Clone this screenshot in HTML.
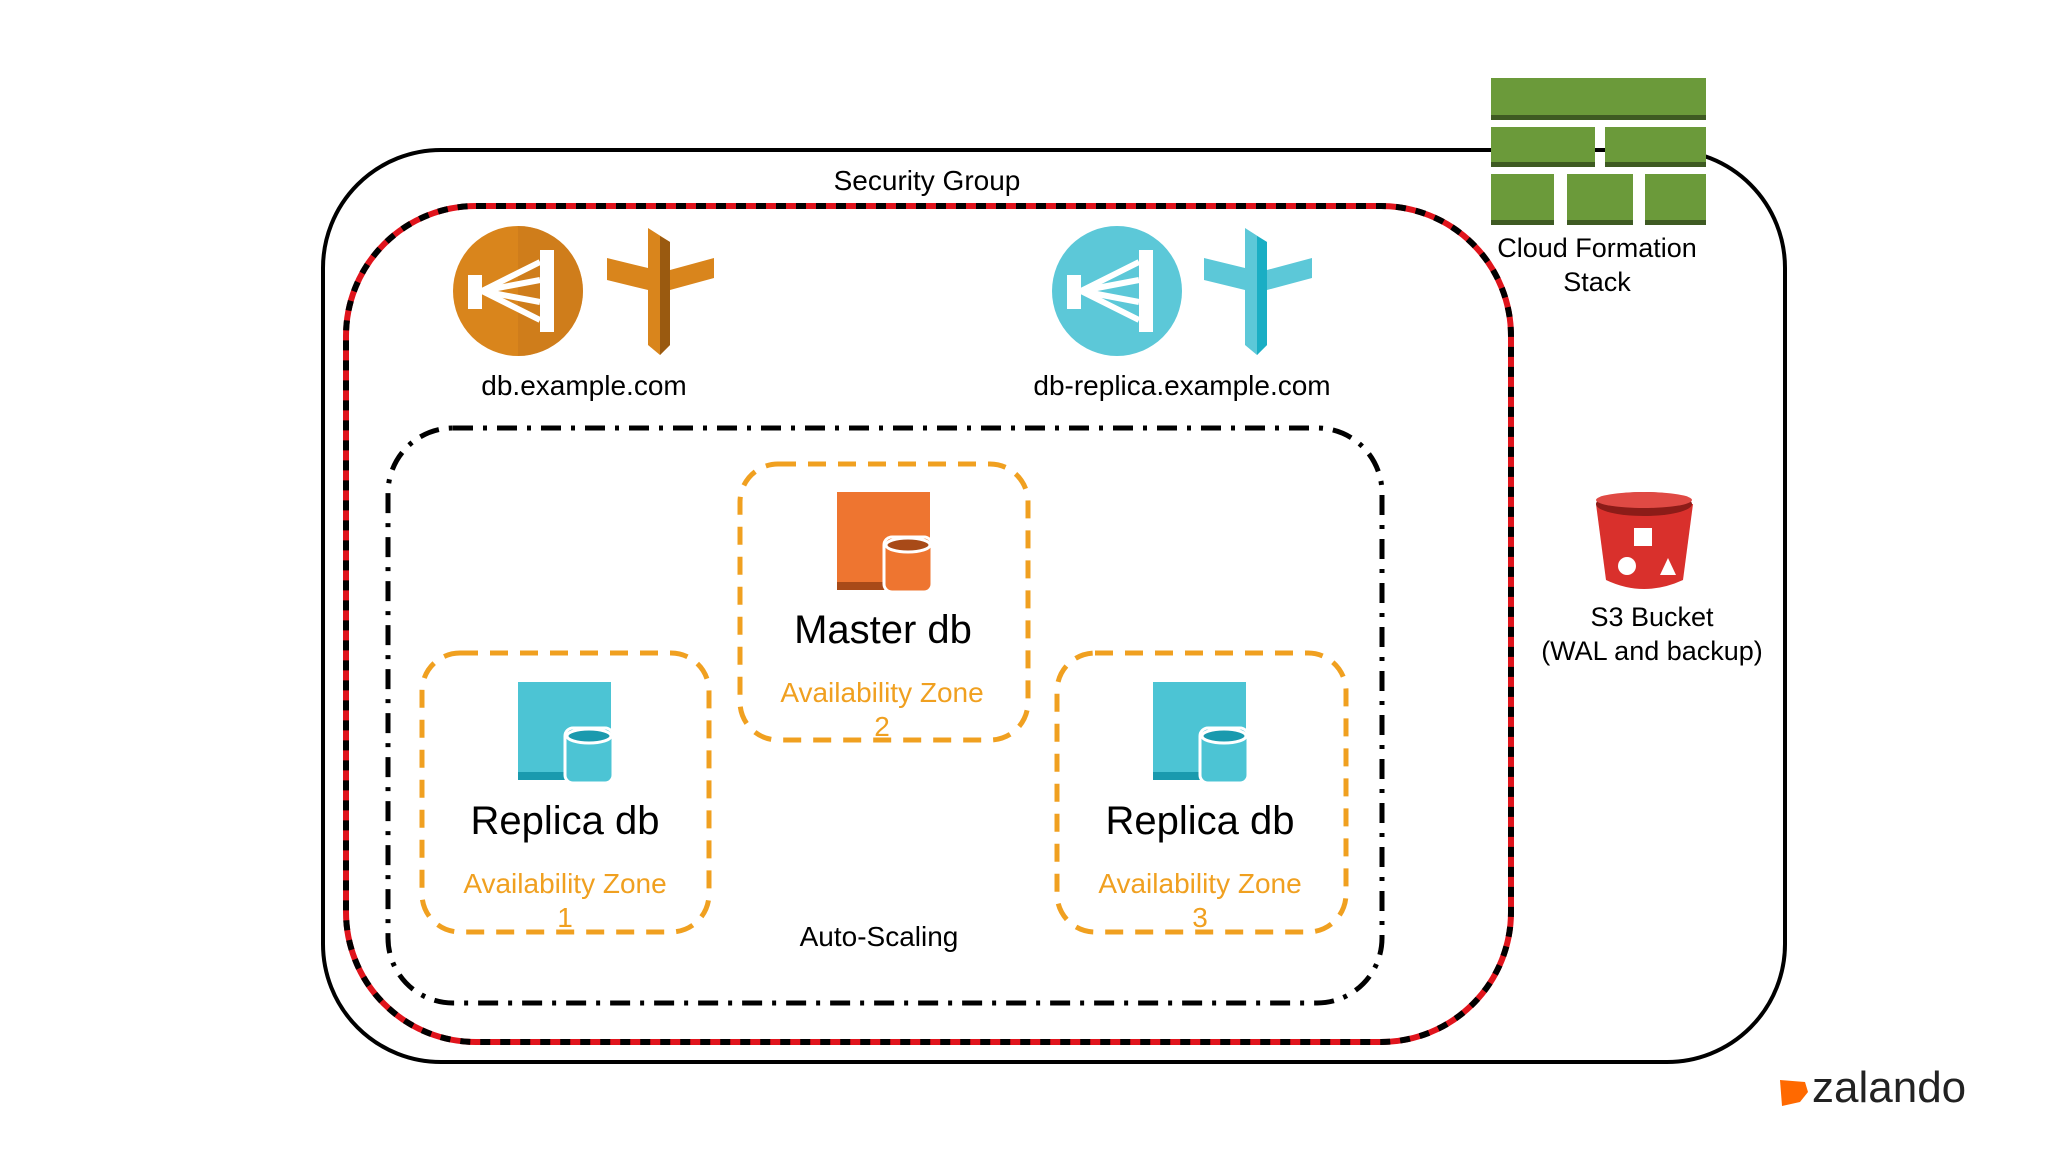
<!DOCTYPE html>
<html><head><meta charset="utf-8"><style>
html,body{margin:0;padding:0;background:#fff}
svg{display:block}
text{font-family:"Liberation Sans",Arial,sans-serif}
</style></head><body>
<svg width="2048" height="1152" viewBox="0 0 2048 1152" xmlns="http://www.w3.org/2000/svg">
<rect width="2048" height="1152" fill="#fff"/>
<rect x="323" y="150" width="1462" height="912" rx="118" fill="none" stroke="#000" stroke-width="4"/>
<rect x="346" y="206" width="1165" height="836" rx="130" fill="none" stroke="#e0141c" stroke-width="6"/>
<rect x="346" y="206" width="1165" height="836" rx="130" fill="none" stroke="#000" stroke-width="6" stroke-dasharray="10 10"/>
<rect x="388" y="428" width="994" height="575" rx="65" fill="none" stroke="#000" stroke-width="5" stroke-dasharray="20 10 4 10"/>
<g fill="none" stroke="#f0a020" stroke-width="5" stroke-dasharray="18 12">
<rect x="740" y="464" width="288" height="276" rx="38"/>
<rect x="422" y="653" width="287" height="279" rx="38"/>
<rect x="1057" y="653" width="289" height="279" rx="38"/>
</g>
<text x="927" y="190" font-size="28" text-anchor="middle">Security Group</text>
<circle cx="518" cy="291" r="65" fill="#d9851c"/>
<path d="M518 226 a65 65 0 0 1 0 130 z" fill="#c5761a" opacity="0.5"/>
<g stroke="#fff" stroke-width="6" fill="#fff">
<rect x="468" y="275" width="14" height="34" stroke="none"/>
<line x1="482" y1="291" x2="540" y2="262"/><line x1="482" y1="291" x2="540" y2="280"/>
<line x1="482" y1="291" x2="540" y2="302"/><line x1="482" y1="291" x2="540" y2="320"/>
<rect x="540" y="250" width="14" height="82" stroke="none"/>
</g>
<path d="M648 228 L670 242 L670 270 L714 258 L714 278 L670 290 L670 345 L660 355 L648 345 L648 290 L607 280 L607 258 L648 268 Z" fill="#d9851c"/>
<path d="M660 236 L670 242 L670 345 L660 355 Z" fill="#9a5a10"/>
<circle cx="1117" cy="291" r="65" fill="#5cc8d8"/>
<g stroke="#fff" stroke-width="6" fill="#fff">
<rect x="1067" y="275" width="14" height="34" stroke="none"/>
<line x1="1081" y1="291" x2="1139" y2="262"/><line x1="1081" y1="291" x2="1139" y2="280"/>
<line x1="1081" y1="291" x2="1139" y2="302"/><line x1="1081" y1="291" x2="1139" y2="320"/>
<rect x="1139" y="250" width="14" height="82" stroke="none"/>
</g>
<path d="M1245 228 L1267 242 L1267 270 L1312 258 L1312 278 L1267 290 L1267 345 L1257 355 L1245 345 L1245 290 L1204 280 L1204 258 L1245 268 Z" fill="#5cc8d8"/>
<path d="M1257 236 L1267 242 L1267 345 L1257 355 Z" fill="#1aaec4"/>
<text x="584" y="395" font-size="28" text-anchor="middle">db.example.com</text>
<text x="1182" y="395" font-size="28" text-anchor="middle">db-replica.example.com</text>
<g fill="#6b9a3a">
<rect x="1491" y="78" width="215" height="42"/>
<rect x="1491" y="127" width="104" height="40"/><rect x="1605" y="127" width="101" height="40"/>
<rect x="1491" y="174" width="63" height="51"/><rect x="1567" y="174" width="66" height="51"/><rect x="1645" y="174" width="61" height="51"/>
</g>
<g fill="#3e5a22">
<rect x="1491" y="115" width="215" height="5"/>
<rect x="1491" y="162" width="104" height="5"/><rect x="1605" y="162" width="101" height="5"/>
<rect x="1491" y="220" width="63" height="5"/><rect x="1567" y="220" width="66" height="5"/><rect x="1645" y="220" width="61" height="5"/>
</g>
<text x="1597" y="257" font-size="27" text-anchor="middle">Cloud Formation</text>
<text x="1597" y="291" font-size="27" text-anchor="middle">Stack</text>
<path d="M1596 504 L1606 580 Q1644 598 1683 580 L1693 504 Z" fill="#d9302c"/>
<ellipse cx="1644" cy="504" rx="48" ry="12" fill="#8c1c18"/>
<ellipse cx="1644" cy="500" rx="48" ry="8" fill="#e04a44"/>
<rect x="1634" y="528" width="18" height="18" fill="#fff"/>
<circle cx="1627" cy="566" r="9" fill="#fff"/>
<path d="M1660 575 L1668 558 L1676 575 Z" fill="#fff"/>
<text x="1652" y="626" font-size="27" text-anchor="middle">S3 Bucket</text>
<text x="1652" y="660" font-size="27" text-anchor="middle">(WAL and backup)</text>
<rect x="837" y="492" width="93" height="96" fill="#ee7530"/>
<rect x="837" y="582" width="60" height="8" fill="#a84a18"/>
<rect x="884" y="537" width="48" height="55" rx="8" fill="#ee7530" stroke="#fff" stroke-width="3"/>
<ellipse cx="908" cy="545" rx="22" ry="7" fill="#a84a18" stroke="#fff" stroke-width="3"/>
<text x="883" y="643" font-size="40" text-anchor="middle">Master db</text>
<text x="882" y="702" font-size="28" text-anchor="middle" fill="#f0a020">Availability Zone</text>
<text x="882" y="736" font-size="28" text-anchor="middle" fill="#f0a020">2</text>
<g id="r1">
<rect x="518" y="682" width="93" height="97" fill="#4cc4d4"/>
<rect x="518" y="772" width="60" height="8" fill="#1a9aae"/>
<rect x="565" y="728" width="48" height="55" rx="8" fill="#4cc4d4" stroke="#fff" stroke-width="3"/>
<ellipse cx="589" cy="736" rx="22" ry="7" fill="#1a9aae" stroke="#fff" stroke-width="3"/>
</g>
<use href="#r1" x="635"/>
<text x="565" y="834" font-size="40" text-anchor="middle">Replica db</text>
<text x="565" y="893" font-size="28" text-anchor="middle" fill="#f0a020">Availability Zone</text>
<text x="565" y="927" font-size="28" text-anchor="middle" fill="#f0a020">1</text>
<text x="1200" y="834" font-size="40" text-anchor="middle">Replica db</text>
<text x="1200" y="893" font-size="28" text-anchor="middle" fill="#f0a020">Availability Zone</text>
<text x="1200" y="927" font-size="28" text-anchor="middle" fill="#f0a020">3</text>
<text x="879" y="946" font-size="28" text-anchor="middle">Auto-Scaling</text>
<path d="M1780 1080 L1805 1082 L1808 1092 L1800 1102 L1782 1106 Z" fill="#ff6900"/>
<text x="1812" y="1102" font-size="44" fill="#222">zalando</text>
</svg>
</body></html>
